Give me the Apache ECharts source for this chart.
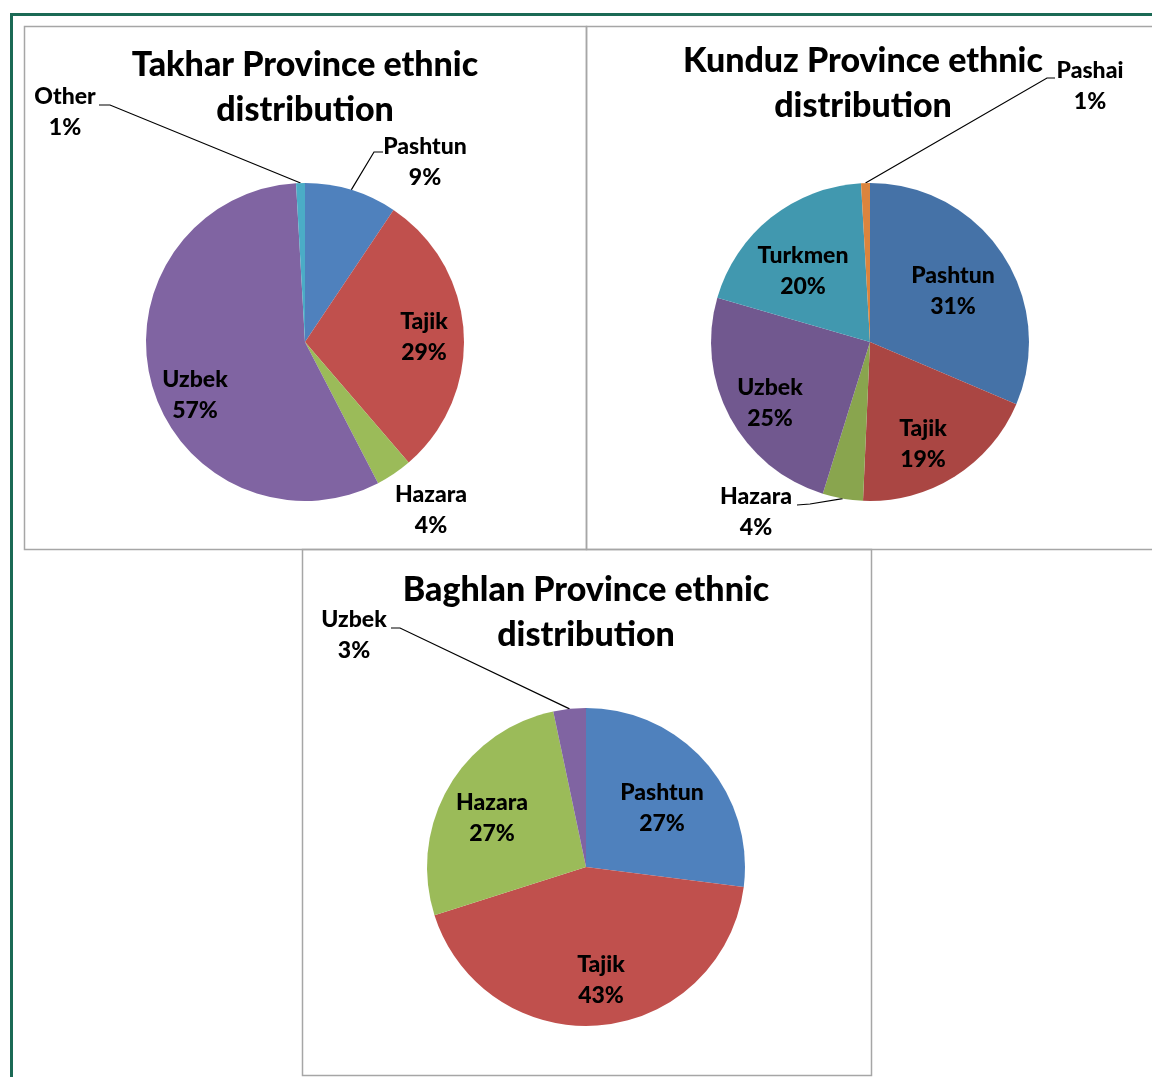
<!DOCTYPE html>
<html><head><meta charset="utf-8">
<script src="https://cdn.jsdelivr.net/npm/echarts@6/dist/echarts.min.js"></script>
<style>html,body{margin:0;padding:0;background:#fff}#c{width:1152px;height:1077px}</style>
</head><body><div id="c"></div><script>
// ---- data ----
const takharNames = ['Pashtun','Tajik','Hazara','Uzbek','Other'];
const takharValues = [9.4, 29.3, 3.7, 56.7, 0.9];
const kunduzNames = ['Pashtun','Tajik','Hazara','Uzbek','Turkmen','Pashai'];
const kunduzValues = [31.4, 19.3, 4.1, 24.7, 19.6, 0.9];
const baghlanNames = ['Pashtun','Tajik','Hazara','Uzbek'];
const baghlanValues = [27.0, 43.1, 26.6, 3.3];
const titleTexts = ['Takhar Province ethnic\ndistribution', 'Kunduz Province ethnic\ndistribution', 'Baghlan Province ethnic\ndistribution'];

// ---- styles / layout ----
const takharColors = ['#4f81bd','#c0504d','#9bbb59','#8064a2','#4bacc6'];
const kunduzColors = ['#4572a7','#aa4643','#89a54e','#71588f','#4198af','#db843d'];
const baghlanColors = ['#4f81bd','#c0504d','#9bbb59','#8064a2'];
const FONT = 'Lato';

const panels = [
  {names: takharNames, values: takharValues, colors: takharColors, center: [305, 342], title: [305, 88],
   labelPos: [[425,162],[424,337],[431,510],[195,395],[65,112]],
   outside: [true,false,true,false,true], lineShow: [true,false,false,false,true],
   leader: [[[374,152],[383,152]], null, null, null, [[110,105],[99,105]]]},
  {names: kunduzNames, values: kunduzValues, colors: kunduzColors, center: [870, 342], title: [863, 84],
   labelPos: [[953,291],[923,444],[756,512],[770,403],[803,271],[1090,86]],
   outside: [false,false,true,false,false,true], lineShow: [false,false,true,false,false,true],
   leader: [null, null, [[810,504],[797,505]], null, null, [[1047,78],[1055,78]]]},
  {names: baghlanNames, values: baghlanValues, colors: baghlanColors, center: [586, 867], title: [586, 613],
   labelPos: [[662,808],[601,980],[492,818],[354,635]],
   outside: [false,false,false,true], lineShow: [false,false,false,true],
   leader: [null, null, null, [[400,628],[391,628]]]}
];

function makeSeries(p) {
  return {
    type: 'pie',
    center: p.center,
    radius: 159,
    startAngle: 90,
    clockwise: true,
    avoidLabelOverlap: false,
    percentPrecision: 0,
    emphasis: {disabled: true},
    itemStyle: {borderWidth: 0},
    label: {
      formatter: '{b}\n{d}%',
      fontFamily: FONT, fontWeight: 900, fontSize: 23, lineHeight: 31,
      color: '#000', align: 'center'
    },
    labelLine: {lineStyle: {color: '#000', width: 1.2}, length: 10, length2: 10},
    labelLayout: function (params) {
      const i = params.dataIndex;
      const q = p.labelPos[i];
      const out = {x: q[0], y: q[1], align: 'center', verticalAlign: 'middle'};
      if (p.leader[i] && params.labelLinePoints) {
        out.labelLinePoints = [params.labelLinePoints[0], p.leader[i][0], p.leader[i][1]];
      }
      return out;
    },
    data: p.names.map((n, i) => ({
      name: n, value: p.values[i],
      itemStyle: {color: p.colors[i]},
      label: {position: p.outside[i] ? 'outside' : 'inside'},
      labelLine: {show: p.lineShow[i]}
    }))
  };
}

const graphics = [
  {type: 'rect', silent: true, z: -2, shape: {x: 11.5, y: 14.5, width: 1160, height: 1090}, style: {fill: 'none', stroke: '#1b6a55', lineWidth: 3}},
  {type: 'rect', silent: true, z: -1, shape: {x: 24.5, y: 26.5, width: 562, height: 523}, style: {fill: 'none', stroke: '#a6a6a6', lineWidth: 1.5}},
  {type: 'rect', silent: true, z: -1, shape: {x: 586.5, y: 26.5, width: 600, height: 523}, style: {fill: 'none', stroke: '#a6a6a6', lineWidth: 1.5}},
  {type: 'rect', silent: true, z: -1, shape: {x: 302.5, y: 549.5, width: 569, height: 526}, style: {fill: 'none', stroke: '#a6a6a6', lineWidth: 1.5}}
];
panels.forEach((p, k) => {
  graphics.push({type: 'text', silent: true, x: p.title[0], y: p.title[1],
    style: {text: titleTexts[k], fill: '#000', font: '900 34px ' + FONT, align: 'center', verticalAlign: 'middle', lineHeight: 45}});
});

const chart = echarts.init(document.getElementById('c'));
chart.setOption({
  animation: false,
  backgroundColor: '#fff',
  graphic: graphics,
  series: panels.map(makeSeries)
});
</script></body></html>
